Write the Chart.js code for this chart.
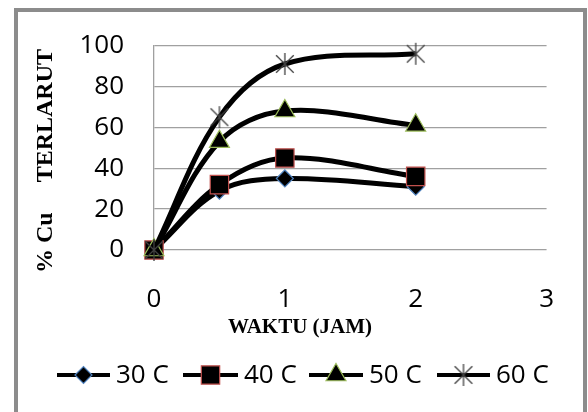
<!DOCTYPE html>
<html>
<head>
<meta charset="utf-8">
<script src="https://cdn.jsdelivr.net/npm/chart.js@4"></script>
<style>
body { margin: 0; background: #fff; }
#frame { position: absolute; left: 14px; top: 8px; width: 565px; height: 420px; border: 4px solid #8c8c8c; }
#wrap { position: absolute; left: 0; top: 0; width: 588px; height: 412px; }
</style>
</head>
<body>
<div id="frame"></div>
<div id="wrap"><canvas id="c" width="588" height="412"></canvas></div>
<script>
// data
const waktu = [0, 0.5, 1, 2]
const seriesNames = ['30 C', '40 C', '50 C', '60 C']
const cu30 = [0, 29, 35, 31]
const cu40 = [0, 32, 45, 36]
const cu50 = [0, 53, 68, 61]
const cu60 = [0, 65, 91, 96]
const xTicks = [0, 1, 2, 3]
const yTicks = [0, 20, 40, 60, 80, 100]

function StarImage(size) {
    let c = document.createElement('canvas')
    c.width = c.height = size
    let g = c.getContext('2d')
    let m = size / 2, r = size / 2 - 1, d = r * 0.8
    g.strokeStyle = '#404040'
    g.lineWidth = 1.3
    g.beginPath()
    g.moveTo(m, m - r); g.lineTo(m, m + r)
    g.moveTo(m - d, m - d); g.lineTo(m + d, m + d)
    g.moveTo(m + d, m - d); g.lineTo(m - d, m + d)
    g.stroke()
    return c
}

const star = StarImage(24)
const styles = ['rectRot', 'rect', 'triangle', star]
const radii = [8.5, 13, 11.5, 12]
const edges = ['#4f81bd', '#c0504d', '#9bbb59', '#404040']

let datasets = [cu30, cu40, cu50, cu60].map((vals, i) => ({
    label: seriesNames[i],
    data: waktu.map((x, j) => ({ x: x, y: vals[j] })),
    borderColor: '#000',
    borderWidth: 5,
    tension: 0.35,
    pointStyle: styles[i],
    pointRadius: radii[i],
    pointBackgroundColor: '#000',
    pointBorderColor: edges[i],
    pointBorderWidth: 1.2,
    order: 4 - i,
    clip: false
}))

function DrawMarker(ctx, i, x, y) {
    let st = styles[i], r = radii[i]
    ctx.save()
    ctx.fillStyle = '#000'
    ctx.strokeStyle = edges[i]
    ctx.lineWidth = 1.2
    ctx.beginPath()
    if (st === 'rectRot') {
        ctx.moveTo(x - r, y); ctx.lineTo(x, y - r); ctx.lineTo(x + r, y); ctx.lineTo(x, y + r)
    } else if (st === 'rect') {
        let s = r * Math.SQRT1_2
        ctx.rect(x - s, y - s, 2 * s, 2 * s)
    } else if (st === 'triangle') {
        let a = r * Math.sqrt(3) / 2
        ctx.moveTo(x, y - r); ctx.lineTo(x + a, y + r / 2); ctx.lineTo(x - a, y + r / 2)
    } else {
        ctx.drawImage(st, x - st.width / 2, y - st.height / 2)
        ctx.restore()
        return
    }
    ctx.closePath()
    ctx.fill()
    ctx.stroke()
    ctx.restore()
}

const legendLines = [[57, 110], [183, 238], [309, 363], [437, 490]]

const extras = {
    id: 'extras',
    afterDraw(chart) {
        let ctx = chart.ctx
        ctx.save()
        ctx.fillStyle = '#000'
        ctx.font = 'bold 21px "Liberation Serif"'
        ctx.textAlign = 'center'
        ctx.fillText('WAKTU (JAM)', 300, 333)
        ctx.save()
        ctx.translate(52, 161)
        ctx.rotate(-Math.PI / 2)
        ctx.font = 'bold 24px "Liberation Serif"'
        ctx.fillText('% Cu     TERLARUT', 0, 0)
        ctx.restore()
        // legend: line + marker + name
        ctx.font = '26px "Open Sans"'
        ctx.textAlign = 'left'
        ctx.textBaseline = 'middle'
        seriesNames.forEach((name, i) => {
            let [a, b] = legendLines[i]
            ctx.strokeStyle = '#000'
            ctx.lineWidth = 4
            ctx.beginPath()
            ctx.moveTo(a, 375); ctx.lineTo(b, 375)
            ctx.stroke()
            DrawMarker(ctx, i, (a + b) / 2, 375)
            ctx.fillStyle = '#000'
            ctx.fillText(name, b + 6, 376)
        })
        ctx.restore()
    }
}

new Chart(document.getElementById('c'), {
    type: 'line',
    data: { datasets: datasets },
    plugins: [extras],
    options: {
        responsive: false,
        animation: false,
        layout: { padding: { left: 0, top: 44, right: 36, bottom: 0 } },
        plugins: { legend: { display: false }, tooltip: { enabled: false } },
        scales: {
            x: {
                type: 'linear', min: 0, max: 3,
                afterBuildTicks: s => { s.ticks = xTicks.map(v => ({ value: v })) },
                afterFit: s => { s.height = 412 - 250 },
                grid: { display: false, drawTicks: false },
                border: { display: false },
                ticks: { font: { family: 'Open Sans', size: 26 }, color: '#000', padding: 34 }
            },
            y: {
                min: 0, max: 100,
                afterBuildTicks: s => { s.ticks = yTicks.map(v => ({ value: v })) },
                afterFit: s => { s.width = 154 },
                grid: { color: '#a0a0a0', lineWidth: 1.3, drawTicks: false },
                border: { display: true, color: '#a0a0a0', width: 1.3 },
                ticks: { font: { family: 'Open Sans', size: 26 }, color: '#000', padding: 30 }
            }
        }
    }
})
</script>
</body>
</html>
